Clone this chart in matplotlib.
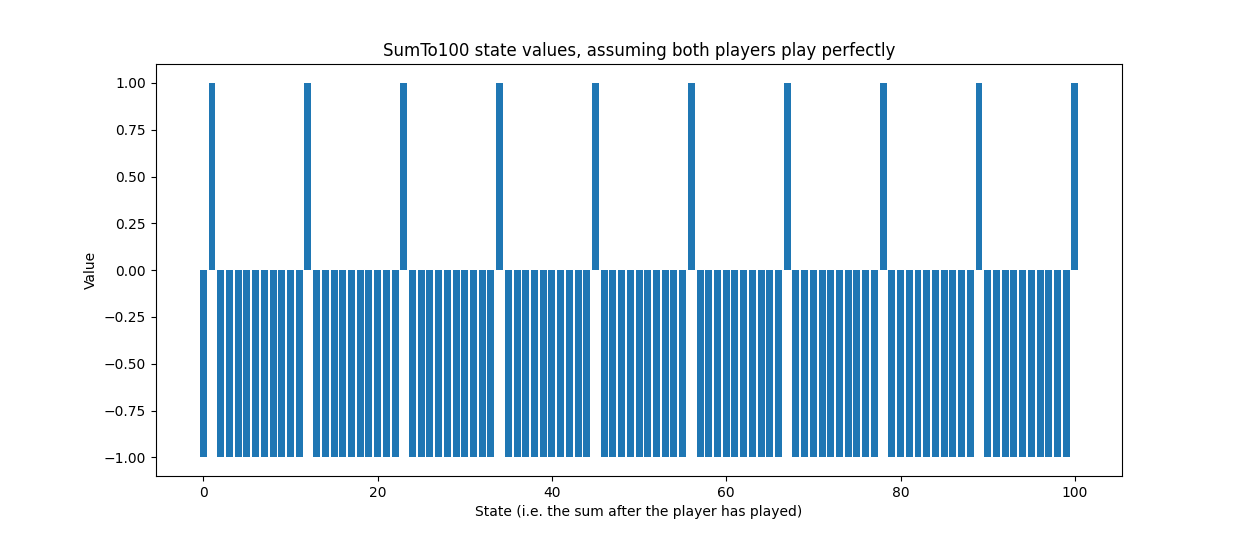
import matplotlib
matplotlib.use('Agg')
import matplotlib.pyplot as plt

# states 0..100, winning states (value +1)
states = list(range(0, 101))
winning_states = [1, 12, 23, 34, 45, 56, 67, 78, 89, 100]
values = [1 if s in winning_states else -1 for s in states]

fig = plt.figure(figsize=(12.47, 5.35), dpi=100)
ax = fig.add_subplot(111)
ax.bar(states, values)
ax.set_title('SumTo100 state values, assuming both players play perfectly')
ax.set_xlabel('State (i.e. the sum after the player has played)')
ax.set_ylabel('Value')

fig.savefig('out.png', dpi=100)
